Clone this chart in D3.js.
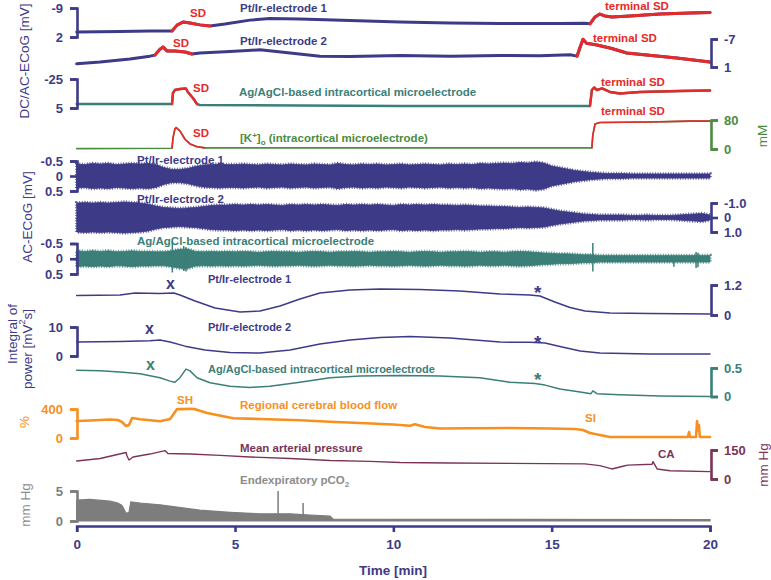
<!DOCTYPE html>
<html><head><meta charset="utf-8">
<script src="https://cdn.jsdelivr.net/npm/d3@7/dist/d3.min.js"></script>
<style>html,body{margin:0;padding:0;background:#fff;}svg{display:block;}</style>
</head><body>
<svg id="chart" width="771" height="580"></svg>
<script>
// ================= DATA =================
const timeTicks = [0, 5, 10, 15, 20];

// DC traces [time min, value]
const dcPt1 = [[0,0.1],[1.37,-0.1],[2.31,-0.3],[3.01,-0.3],[3.17,-2.5],[3.36,-3.7],[3.58,-3.3],[3.89,-2.6],[4.21,-2.2],[4.68,-2.9],[5.47,-4.4],[6.1,-5.0],[7.05,-4.8],[8.63,-4.3],[10.21,-3.7],[11.79,-3.3],[13.37,-3.1],[15.26,-3.1],[16.05,-3.2],[16.21,-3.0],[16.37,-5.6],[16.52,-6.7],[16.68,-6.0],[16.9,-5.6],[17.47,-6.0],[18.42,-6.7],[19.37,-7.1],[20,-7.3]];
const dcPt1SD = [[3.01,4.21],[16.21,20]];

const dcPt2 = [[0,0.1],[0.74,-0.4],[1.68,-1.3],[2.31,-2.1],[2.47,-2.4],[2.63,-4.1],[2.73,-4.7],[2.85,-3.6],[3.1,-3.6],[3.42,-3.3],[3.64,-2.7],[3.89,-3.0],[4.84,-3.4],[5.79,-3.9],[6.74,-3.0],[7.68,-2.1],[8.63,-2.0],[10.21,-2.3],[11.79,-2.1],[13.37,-2.3],[14.63,-2.2],[15.58,-2.5],[15.8,-2.1],[15.9,-4.7],[15.99,-6.9],[16.1,-5.8],[16.43,-5.3],[16.9,-4.3],[17.37,-3.0],[18.0,-2.4],[18.95,-1.6],[20,-0.4]];
const dcPt2SD = [[2.47,3.64],[15.8,20]];

const dcAg = [[0,0.9],[3.01,0.9],[3.04,-10.5],[3.1,-13.6],[3.26,-14.7],[3.45,-15.2],[3.51,-11.6],[3.67,-5.3],[3.8,0.9],[3.89,1.9],[7.05,2.4],[10.21,2.9],[13.37,2.9],[16.21,2.9],[16.27,-13.6],[16.34,-16.2],[16.43,-13.6],[16.59,-15.2],[16.84,-11.6],[17.15,-10.0],[17.79,-11.6],[19.05,-12.6],[20,-13.1]];
const dcAgSD = [[3.01,3.8],[16.21,20]];

const potassium = [[0,1],[3.01,2],[3.04,30],[3.1,55],[3.14,59],[3.26,50],[3.42,27],[3.58,14],[3.8,6],[4.05,3],[16.27,3],[16.3,39],[16.37,69],[16.52,73],[18.1,74.5],[19.37,77],[20,77]];
const potassiumSD = [[3.01,4.05],[16.27,20]];

// AC-ECoG amplitude envelopes (mV), every 0.25 min from 0 to 20
const acPt1 = [.40,.38,.42,.40,.42,.38,.40,.42,.40,.42, .38,.28,.22,.22,.25,.32,.37,.38,.40,.38,
  .38,.40,.38,.37,.40,.38,.37,.40,.38,.37, .40,.38,.37,.42,.38,.37,.40,.38,.40,.37,
  .38,.40,.37,.38,.40,.38,.37,.40,.38,.40, .38,.42,.40,.42,.43,.42,.45,.43,.47,.43,
  .33,.28,.23,.18,.15,.12,.10,.08,.08,.08,.07,.07,.07,.07,.07,.07,.07,.07,.07,.07,.07];
const acPt2 = [1.0,1.03,1.0,1.03,1.0,1.03,1.07,1.03,1.0,.93, .79,.69,.66,.62,.66,.69,.76,.83,.86,.86,
  .90,.86,.90,.86,.90,.86,.83,.90,.86,.90, .86,.90,.86,.83,.90,.86,.90,.86,.90,.86,
  .83,.90,.86,.90,.86,.90,.86,.86,.83,.86, .83,.79,.79,.76,.76,.72,.69,.72,.69,.66,
  .55,.45,.38,.31,.24,.21,.17,.17,.17,.17,.14,.14,.17,.14,.14,.14,.17,.21,.24,.28,.17];
const acAg = [.26,.24,.26,.24,.26,.23,.24,.26,.24,.24, .23,.23,.26,.31,.32,.24,.23,.24,.23,.24,
  .23,.24,.23,.21,.23,.24,.23,.23,.21,.23, .24,.23,.21,.23,.23,.24,.23,.21,.23,.23,
  .24,.23,.21,.23,.24,.23,.21,.23,.23,.24, .23,.21,.23,.23,.21,.23,.24,.23,.21,.19,
  .18,.16,.16,.15,.13,.13,.11,.11,.11,.11,.11,.11,.11,.11,.11,.11,.11,.11,.11,.11,.11];
// isolated artefact spikes [time, negative peak, positive peak]
const acAgSpikes = [[3.02,-0.55,0.45],[3.38,-0.42,0.40],[3.45,-0.38,0.42],[16.3,-0.52,0.42],[18.86,-0.05,0.26],[19.56,-0.22,0.30],[19.62,-0.2,0.28]];

// Integral of power
const powPt1 = [[0,.78],[1.37,.80],[1.84,.88],[2.63,.86],[3.07,.88],[3.26,.80],[3.74,.56],[4.37,.28],[5.16,.12],[5.79,.16],[6.42,.36],[7.05,.64],[7.68,.88],[8.63,1.0],[9.58,1.04],[10.84,1.02],[12.1,.96],[13.37,.84],[14.31,.80],[14.63,.76],[15.1,.52],[15.58,.30],[16.05,.16],[16.84,.08],[18.1,.06],[20,.04]];
const powPt2 = [[0,4.8],[1.37,5.0],[2.31,5.3],[2.63,5.5],[2.95,4.8],[3.42,3.4],[4.05,2.1],[4.84,1.2],[5.79,1.0],[6.74,2.1],[7.68,4.1],[8.63,5.5],[9.58,6.4],[10.53,6.7],[11.79,6.2],[13.37,4.8],[14.31,4.7],[14.79,4.5],[15.26,3.3],[15.9,1.7],[16.52,1.0],[18.1,0.7],[20,0.7]];
const powAg = [[0,.46],[0.74,.45],[1.37,.43],[2.0,.40],[2.63,.33],[2.95,.27],[3.1,.25],[3.26,.33],[3.45,.48],[3.58,.45],[3.8,.33],[4.21,.24],[4.84,.18],[5.47,.16],[6.1,.18],[7.05,.25],[8.0,.33],[8.95,.36],[10.21,.37],[11.47,.36],[12.73,.33],[13.68,.25],[14.47,.23],[14.79,.2],[15.26,.13],[15.9,.08],[16.24,.05],[16.3,.10],[16.43,.05],[17.15,.03],[18.42,.01],[20,0]];

// Regional cerebral blood flow (%)
const cbf = [[0,234],[0.42,241],[1.05,255],[1.3,248],[1.43,221],[1.56,165],[1.65,180],[1.75,276],[2.0,258],[2.63,230],[2.95,262],[3.17,400],[3.36,398],[3.58,404],[3.74,398],[4.12,345],[4.94,272],[5.79,262],[7.05,245],[8.0,225],[8.95,207],[9.99,186],[10.53,170],[10.68,190],[11.0,152],[11.47,131],[12.42,134],[13.68,138],[14.95,131],[15.73,124],[15.99,110],[16.21,69],[16.52,41],[16.84,14],[18.1,14],[19.3,14],[19.34,83],[19.37,14],[19.56,14],[19.59,234],[19.62,100],[19.65,179],[19.68,14],[20,14]];
// Mean arterial pressure (mm Hg)
const map = [[0,93],[0.74,106],[1.56,137],[1.59,119],[1.65,98],[1.78,114],[2.31,129],[2.79,147],[2.88,132],[3.58,129],[4.53,122],[5.47,114],[6.74,106],[8.0,96],[9.26,91],[10.21,85],[11.79,83],[13.68,81],[16.05,78],[16.52,69],[16.9,52],[17.28,67],[17.4,72],[18.17,76],[18.2,90],[18.33,52],[18.74,43],[20,38]];
// Endexpiratory pCO2 (mm Hg)
const pco2 = [[0,3.5],[0.42,3.6],[1.05,3.3],[1.3,3.0],[1.43,2.6],[1.56,1.3],[1.65,1.4],[1.71,3.2],[2.0,3.0],[2.63,2.7],[3.89,1.8],[4.84,1.45],[5.79,1.2],[6.74,1.2],[7.37,1.0],[8.0,0.8],[8.1,0.3],[20,0.25]];
const pco2Spikes = [[6.36,5.0],[7.15,3.0]];

// Scale-bar tick values and labels
const tkPt1 = [[-9,'-9'],[2,'2']];
const tkPt2 = [[-7,'-7'],[1,'1']];
const tkAg = [[-25,'-25'],[5,'5']];
const tkK = [[80,'80'],[0,'0']];
const tkAc1 = [[-0.5,'-0.5'],[0,'0'],[0.5,'0.5']];
const tkAc2 = [[-1,'-1.0'],[0,'0'],[1,'1.0']];
const tkAc3 = [[-0.5,'-0.5'],[0,'0'],[0.5,'0.5']];
const tkP1 = [[1.2,'1.2'],[0,'0']];
const tkP2 = [[10,'10'],[0,'0']];
const tkP3 = [[0.5,'0.5'],[0,'0']];
const tkCbf = [[400,'400'],[0,'0']];
const tkMap = [[150,'150'],[0,'0']];
const tkCo2 = [[5,'5'],[0,'0']];

// ================= DRAW =================
const C = {navy:'#3d3b87', teal:'#3b7f78', green:'#4b8c3f', red:'#e62a2a', orange:'#f7901e', maroon:'#7b3459', gray:'#7d7d7d', grayTxt:'#8c8c8c'};
const FONT = '"Liberation Sans", Arial, Helvetica, sans-serif';
const svg = d3.select('#chart');
const x = d3.scaleLinear().domain([0,20]).range([76.7,710]);
const ys = (d, r) => d3.scaleLinear().domain(d).range(r);

const yPt1 = ys([-9,2],[8,37]);
const yPt2 = ys([-7,1],[39,67]);
const yAg = ys([-25,5],[79,108]);
const yK = ys([80,0],[120,149]);
const yAc1 = ys([-0.5,0.5],[161,191]);
const yAc2 = ys([-1,1],[203,232]);
const yAc3 = ys([-0.5,0.5],[243.5,274]);
const yP1 = ys([1.2,0],[285,315]);
const yP2 = ys([10,0],[327,356]);
const yP3 = ys([0.5,0],[368,396.5]);
const yCbf = ys([400,0],[409,438]);
const yMap = ys([150,0],[450,479]);
const yCo2 = ys([5,0],[491,521]);

function trace(data, y, color, w, sd){
  const line = d3.line().x(d=>x(d[0])).y(d=>y(d[1]));
  svg.append('path').attr('d', line(data)).attr('fill','none').attr('stroke',color)
    .attr('stroke-width',w).attr('stroke-linejoin','round').attr('stroke-linecap','round');
  (sd||[]).forEach(([a,b])=>{
    const seg = data.filter(d=>d[0]>=a && d[0]<=b);
    svg.append('path').attr('d', line(seg)).attr('fill','none').attr('stroke',C.red)
      .attr('stroke-width',w).attr('stroke-linejoin','round').attr('stroke-linecap','round');
  });
}
function band(amps, y, color, spikes){
  const t = d3.range(0, 20.001, 0.25);
  const data = amps.map((a,i)=>[t[i], a]);
  const area = d3.area().x(d=>x(d[0])).y0(d=>y(d[1])).y1(d=>y(-d[1]));
  svg.append('path').attr('d', area(data)).attr('fill', color).attr('stroke',color).attr('stroke-width',0.8);
  // ragged fringe along the envelope edges
  svg.append('path').attr('d', area(data)).attr('fill','none').attr('stroke',color)
    .attr('stroke-width',3.5).attr('stroke-dasharray','0.9 1.7').attr('opacity',0.85);
  (spikes||[]).forEach(s=>{
    svg.append('line').attr('x1',x(s[0])).attr('x2',x(s[0])).attr('y1',y(s[1])).attr('y2',y(s[2]))
      .attr('stroke',color).attr('stroke-width',1.5);
  });
}
function bracket(y, ticks, side, color){
  const ax = (side==='left'? d3.axisLeft(y) : d3.axisRight(y))
    .tickValues(ticks.map(d=>d[0])).tickSize(7).tickPadding(side==='left'?7:6)
    .tickFormat(v => ticks.find(d=>d[0]===v)[1]);
  const g = svg.append('g').attr('transform',`translate(${side==='left'?77:711},0)`).call(ax)
    .attr('font-family',FONT).attr('font-size',13).attr('font-weight','bold');
  g.select('.domain').attr('stroke',color).attr('stroke-width',2.6);
  g.selectAll('.tick line').attr('stroke',color).attr('stroke-width',2.6);
  g.selectAll('.tick text').attr('fill',color);
}
function txt(s, xx, yy, color, size, weight, anchor){
  return svg.append('text').attr('x',xx).attr('y',yy).attr('fill',color)
    .attr('font-family',FONT).attr('font-size',size||11.5).attr('font-weight',weight||'bold')
    .attr('text-anchor',anchor||'start').text(s);
}
function vtxt(s, cx, cy, color, size){
  return svg.append('text').attr('transform',`translate(${cx},${cy}) rotate(-90)`)
    .attr('text-anchor','middle').attr('dominant-baseline','central').attr('fill',color)
    .attr('font-family',FONT).attr('font-size',size||13.5).text(s);
}

// --- DC traces
trace(dcPt1, yPt1, C.navy, 3, dcPt1SD);
trace(dcPt2, yPt2, C.navy, 3, dcPt2SD);
trace(dcAg, yAg, C.teal, 2.4, dcAgSD);
trace(potassium, yK, C.green, 1.6, potassiumSD);
bracket(yPt1, tkPt1, 'left', C.navy);
bracket(yPt2, tkPt2, 'right', C.navy);
bracket(yAg, tkAg, 'left', C.navy);
bracket(yK, tkK, 'right', C.green);

txt('Pt/Ir-electrode 1', 240, 12, C.navy);
txt('Pt/Ir-electrode 2', 240, 45, C.navy);
txt('Ag/AgCl-based intracortical microelectrode', 239, 96, C.teal);
const kt = txt('[K', 240, 142, C.green);
kt.append('tspan').attr('font-size',8).attr('dy',-4).text('+');
kt.append('tspan').attr('dy',4).text(']');
kt.append('tspan').attr('font-size',8).attr('dy',3).text('o');
kt.append('tspan').attr('dy',-3).text(' (intracortical microelectrode)');
[[190,17],[173,47],[193,92],[193,137]].forEach(p=>txt('SD',p[0],p[1],C.red));
[[605,10],[593,42],[601,86],[601,115]].forEach(p=>txt('terminal SD',p[0],p[1],C.red));

// --- AC traces
band(acPt1, yAc1, C.navy);
band(acPt2, yAc2, C.navy);
band(acAg, yAc3, C.teal, acAgSpikes);
bracket(yAc1, tkAc1, 'left', C.navy);
bracket(yAc2, tkAc2, 'right', C.navy);
bracket(yAc3, tkAc3, 'left', C.navy);
txt('Pt/Ir-electrode 1', 137, 164, C.navy);
txt('Pt/Ir-electrode 2', 137, 203, C.navy);
txt('Ag/AgCl-based intracortical microelectrode', 137, 245, C.teal);

// --- Power
trace(powPt1, yP1, C.navy, 1.5);
trace(powPt2, yP2, C.navy, 1.5);
trace(powAg, yP3, C.teal, 1.5);
bracket(yP1, tkP1, 'right', C.navy);
bracket(yP2, tkP2, 'left', C.navy);
bracket(yP3, tkP3, 'right', C.teal);
txt('Pt/Ir-electrode 1', 208, 283, C.navy, 11);
txt('Pt/Ir-electrode 2', 208, 331, C.navy, 11);
txt('Ag/AgCl-based intracortical microelectrode', 208, 373, C.teal, 11);
txt('x', 166, 289, C.navy, 16);
txt('x', 145, 334, C.navy, 16);
txt('x', 146, 370, C.teal, 16);
txt('*', 534, 299, C.navy, 19);
txt('*', 534, 349, C.navy, 19);
txt('*', 534, 386, C.teal, 19);

// --- CBF, MAP, pCO2
trace(cbf, yCbf, C.orange, 2.6);
bracket(yCbf, tkCbf, 'left', C.orange);
txt('SH', 177, 404, C.orange);
txt('Regional cerebral blood flow', 240, 409, C.orange);
txt('SI', 585, 422, C.orange);

trace(map, yMap, C.maroon, 1.4);
bracket(yMap, tkMap, 'right', C.maroon);
txt('Mean arterial pressure', 240, 452, C.maroon);
txt('CA', 658, 458, C.maroon);

const co2Area = d3.area().x(d=>x(d[0])).y0(yCo2(0)).y1(d=>yCo2(d[1]));
svg.append('path').attr('d', co2Area(pco2)).attr('fill', C.gray).attr('stroke',C.gray).attr('stroke-width',1.2);
pco2Spikes.forEach(s=>{
  svg.append('line').attr('x1',x(s[0])).attr('x2',x(s[0])).attr('y1',yCo2(0)).attr('y2',yCo2(s[1]))
    .attr('stroke',C.gray).attr('stroke-width',1.5);
});
bracket(yCo2, tkCo2, 'left', C.gray);
const ct = txt('Endexpiratory pCO', 240, 484, C.grayTxt);
ct.append('tspan').attr('font-size',8).attr('dy',3).text('2');

// --- Time axis
const xa = svg.append('g').attr('transform','translate(0,526)')
  .call(d3.axisBottom(x).tickValues(timeTicks).tickSize(6).tickPadding(7).tickFormat(d3.format('d')))
  .attr('font-family',FONT).attr('font-size',13.5).attr('font-weight','bold');
xa.select('.domain').attr('stroke',C.navy).attr('stroke-width',2.6);
xa.selectAll('.tick line').attr('stroke',C.navy).attr('stroke-width',2.6);
xa.selectAll('.tick text').attr('fill',C.navy);
txt('Time [min]', 393, 575, C.navy, 13.5, 'bold', 'middle');

// --- axis titles
vtxt('DC/AC-ECoG [mV]', 24, 61, C.navy);
vtxt('AC-ECoG [mV]', 27, 217, C.navy);
vtxt('Integral of', 12, 334, C.navy);
const pw = vtxt('power [mV', 27, 349, C.navy);
pw.append('tspan').attr('font-size',9).attr('dy',-5).text('2');
pw.append('tspan').attr('dy',5).text('s]');
vtxt('%', 24, 422, C.orange);
vtxt('mm Hg', 25, 505, C.grayTxt);
vtxt('mM', 762, 136, C.green);
vtxt('mm Hg', 763, 465, C.maroon);
</script>
</body></html>
